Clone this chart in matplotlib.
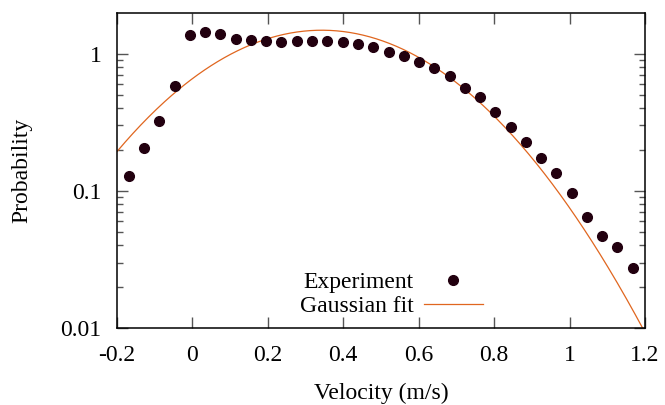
import numpy as np
import matplotlib
matplotlib.use('Agg')
import matplotlib.pyplot as plt
from matplotlib.ticker import LogLocator, FixedLocator, NullFormatter

# measured velocity bins (m/s) and probability density
velocity = [-0.169, -0.128, -0.088, -0.047, -0.007, 0.034, 0.074, 0.115,
            0.155, 0.196, 0.236, 0.277, 0.317, 0.358, 0.398, 0.439, 0.479,
            0.520, 0.560, 0.601, 0.641, 0.682, 0.722, 0.763, 0.803, 0.844,
            0.884, 0.925, 0.965, 1.006, 1.046, 1.087, 1.127, 1.168]
probability = [0.128, 0.206, 0.324, 0.580, 1.377, 1.43, 1.39, 1.29,
               1.25, 1.24, 1.22, 1.24, 1.23, 1.24, 1.22, 1.175, 1.117,
               1.03, 0.955, 0.874, 0.781, 0.686, 0.561, 0.480, 0.375, 0.293,
               0.226, 0.174, 0.134, 0.096, 0.0649, 0.0472, 0.0388, 0.0274]

# gaussian fit parameters
fit_mu = 0.343
fit_sigma = 0.269

xticks = [-0.2, 0, 0.2, 0.4, 0.6, 0.8, 1, 1.2]
xticklabels = ['-0.2', '0', '0.2', '0.4', '0.6', '0.8', '1', '1.2']
yticks = [0.01, 0.1, 1]
yticklabels = ['0.01', '0.1', '1']

plt.rcParams['font.family'] = ['Liberation Serif', 'DejaVu Serif']
plt.rcParams['font.size'] = 17

fig = plt.figure(figsize=(6.65, 4.05), dpi=100)
ax = fig.add_axes([117 / 665, 1 - 328 / 405, 528 / 665, 315 / 405])

vv = np.linspace(-0.2, 1.2, 400)
fit = np.exp(-(vv - fit_mu) ** 2 / (2 * fit_sigma ** 2)) / (fit_sigma * np.sqrt(2 * np.pi))

ax.plot(velocity, probability, 'o', color='#22000f', markersize=7,
        label='Experiment', zorder=3)
ax.plot(vv, fit, '-', color='#e0661f', lw=0.9, label='Gaussian fit', zorder=2)

ax.set_yscale('log')
ax.set_xlim(-0.2, 1.2)
ax.set_ylim(0.01, 1.98)

ax.xaxis.set_major_locator(FixedLocator(xticks))
ax.set_xticklabels(xticklabels)
ax.yaxis.set_major_locator(FixedLocator(yticks))
ax.set_yticklabels(yticklabels)
ax.yaxis.set_minor_locator(LogLocator(base=10, subs=np.arange(2, 10)))
ax.yaxis.set_minor_formatter(NullFormatter())

ax.tick_params(which='both', direction='in', top=True, right=True, color='#555555')
ax.tick_params(which='major', length=8, width=1)
ax.tick_params(which='minor', length=4.5, width=1)
ax.tick_params(axis='x', pad=12)
ax.tick_params(axis='y', pad=11)
for s in ax.spines.values():
    s.set_linewidth(1.1)

ax.set_xlabel('Velocity (m/s)', labelpad=12.5)
ax.set_ylabel('Probability', labelpad=20)

ax.legend(loc='lower right', bbox_to_anchor=(483 / 665, 1 - 317 / 405),
          bbox_transform=fig.transFigure, frameon=False, markerfirst=False,
          handlelength=2.5, labelspacing=0.1, handletextpad=0.45,
          borderpad=0, borderaxespad=0)

plt.savefig('out.png', dpi=100)
